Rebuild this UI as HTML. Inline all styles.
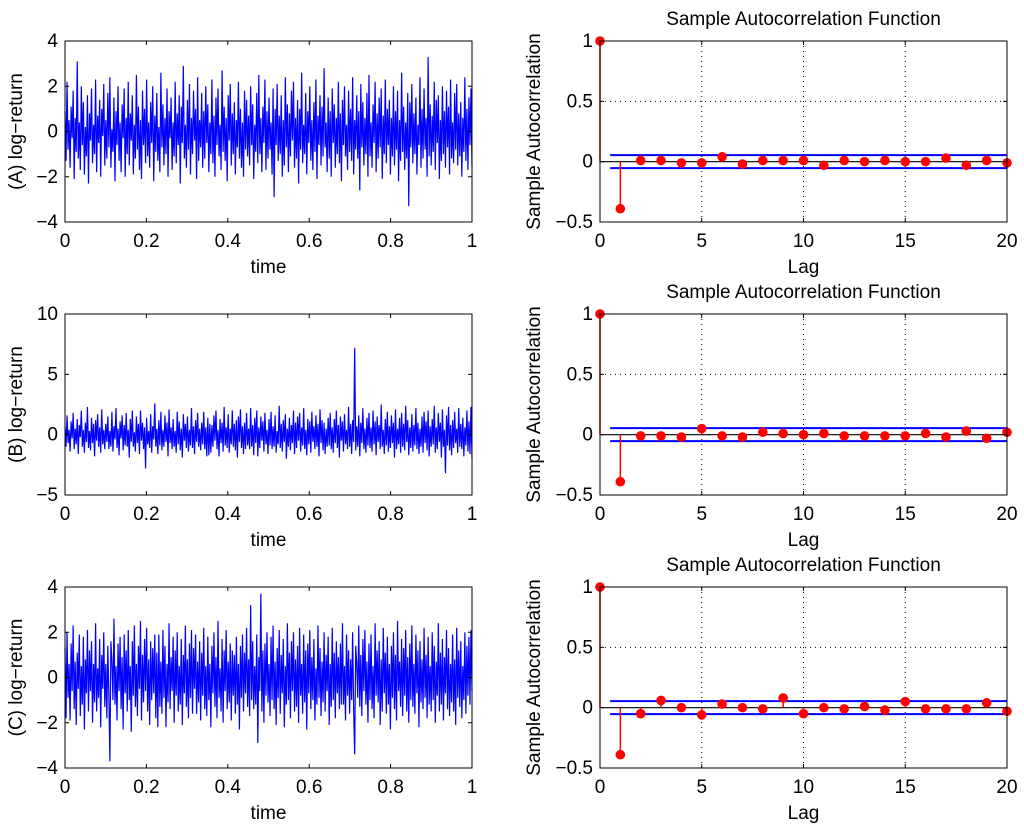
<!DOCTYPE html>
<html><head><meta charset="utf-8"><style>
html,body{margin:0;padding:0;background:#fff;}
svg text{font-family:"Liberation Sans",Arial,sans-serif;fill:#000;}
</style></head><body>
<svg id="fig" width="1024" height="831" viewBox="0 0 1024 831" xmlns="http://www.w3.org/2000/svg"></svg>
<script>
const seriesA=[
0.9,-1.3,2.2,-0.8,0.5,-1.6,1.1,-0.3,1.8,-2.1,0.6,-0.9,3.1,-1.2,0.4,-1.7,2.0,-0.6,1.3,-1.9,
0.2,-1.1,1.6,-2.3,0.8,-0.4,1.9,-1.4,0.3,-1.0,2.3,-1.8,0.7,-0.5,1.4,-2.0,1.0,-0.2,2.1,-1.5,
0.5,-1.2,1.7,-0.7,2.4,-1.6,0.1,-0.9,1.5,-2.2,0.9,-0.6,2.0,-1.3,0.4,-1.8,1.2,-0.3,1.9,-2.0,
0.6,-1.0,2.2,-1.5,0.8,-0.4,1.6,-1.9,0.3,-1.2,2.5,-0.8,1.1,-1.7,0.5,-2.1,1.8,-0.6,1.0,-1.4,
2.3,-1.1,0.4,-1.6,1.3,-0.5,2.0,-2.2,0.7,-0.9,1.7,-1.3,0.2,-1.8,2.6,-0.7,1.2,-1.5,0.6,-1.0,
1.9,-2.0,0.9,-0.3,1.5,-1.7,0.4,-1.1,2.2,-1.4,0.8,-0.6,1.6,-2.3,1.1,-0.5,2.9,-1.2,0.3,-1.6,
1.4,-0.8,2.1,-1.9,0.6,-1.0,1.8,-0.4,1.0,-2.1,2.4,-1.3,0.5,-0.7,1.7,-1.6,0.9,-1.2,2.0,-0.5,
1.2,-1.8,0.4,-1.0,2.3,-1.4,0.7,-2.0,1.5,-0.6,1.9,-1.1,0.3,-1.7,2.7,-0.9,1.1,-1.3,0.6,-2.2,
1.6,-0.4,2.1,-1.5,0.8,-1.0,1.3,-1.9,0.5,-0.7,2.2,-1.2,1.0,-1.6,0.4,-2.0,1.8,-0.8,1.4,-1.1,
0.7,-1.5,2.0,-0.6,1.2,-2.1,0.3,-0.9,1.7,-1.4,2.5,-1.0,0.6,-1.8,1.1,-0.5,2.3,-1.7,0.9,-1.2,
1.5,-0.8,0.4,-1.9,1.9,-2.9,1.0,-0.6,2.1,-1.3,0.7,-1.0,1.6,-2.0,0.5,-1.5,2.4,-0.7,1.2,-1.8,
0.8,-1.1,1.8,-0.4,2.2,-1.6,0.6,-1.2,1.4,-2.3,1.0,-0.8,2.6,-1.4,0.3,-1.0,1.7,-1.9,0.9,-0.5,
2.0,-1.3,0.5,-1.7,1.3,-0.9,2.3,-2.1,0.7,-0.6,1.6,-1.5,1.1,-1.1,2.8,-0.7,0.4,-1.8,1.5,-1.2,
0.9,-2.0,1.9,-0.5,1.2,-1.6,0.6,-1.0,2.2,-1.4,0.8,-2.2,1.4,-0.6,2.0,-1.1,0.3,-1.7,1.8,-0.9,
1.0,-1.3,2.4,-1.9,0.5,-0.8,1.6,-1.2,0.9,-2.6,2.1,-0.7,1.3,-1.5,0.6,-1.0,1.7,-2.0,2.5,-1.1,
0.4,-1.6,1.2,-0.5,2.2,-1.8,0.8,-1.2,1.5,-0.7,1.9,-2.1,0.7,-1.0,2.3,-1.4,1.0,-0.6,1.4,-1.9,
0.6,-1.1,2.0,-1.5,0.9,-0.8,1.8,-2.2,0.5,-1.3,2.6,-0.9,1.1,-1.7,0.4,-1.2,1.7,-3.3,1.3,-0.7,
2.1,-1.4,0.8,-1.0,1.5,-1.9,0.3,-0.6,2.4,-1.6,1.0,-1.2,1.9,-0.8,0.6,-2.0,3.3,-1.1,1.2,-1.5,
0.7,-0.9,2.2,-1.7,1.4,-0.5,1.6,-2.1,0.5,-1.3,2.0,-1.0,0.9,-1.6,1.8,-0.7,1.1,-1.9,2.3,-1.2,
0.4,-1.4,1.7,-0.8,2.1,-1.5,0.8,-1.1,1.3,-2.0,0.6,-0.9,2.4,-1.3,1.0,-1.7,1.5,-0.6,1.9,-1.6];
const seriesB=[
0.7,-1.0,1.6,-0.7,0.4,-1.4,1.1,-0.3,1.8,-1.2,0.5,-0.8,1.3,-1.6,0.8,-0.2,2.0,-1.0,0.4,-1.5,
1.0,-0.6,2.3,-1.1,0.3,-1.3,1.4,-0.7,0.9,-1.8,1.2,-0.5,1.7,-1.0,0.6,-1.5,2.1,-0.8,0.4,-1.2,
0.9,-0.6,1.5,-1.2,0.3,-1.0,1.9,-1.4,0.7,-0.4,2.2,-1.1,0.5,-1.7,1.1,-0.3,1.6,-1.3,0.8,-0.9,
1.8,-1.0,0.4,-1.9,1.3,-0.6,2.0,-1.0,0.2,-1.4,1.5,-0.7,0.9,-1.6,2.0,-0.5,1.0,-1.2,0.6,-2.8,
1.4,-0.8,0.3,-1.1,1.7,-1.5,0.7,-0.4,2.6,-1.0,0.5,-1.6,1.2,-0.9,1.9,-1.3,0.4,-1.0,1.6,-0.6,
1.0,-1.8,2.1,-0.7,0.6,-1.2,1.3,-1.0,0.3,-1.5,1.9,-0.8,1.1,-1.3,0.5,-1.9,1.7,-0.5,0.9,-1.1,
1.5,-1.4,0.4,-0.9,2.2,-1.1,0.7,-1.6,1.2,-0.6,1.8,-1.0,0.5,-1.3,1.0,-0.8,1.9,-1.2,0.6,-1.8,
1.4,-1.7,0.9,-1.5,0.8,-1.0,1.6,-0.5,2.0,-1.2,0.4,-1.8,1.3,-0.7,1.0,-1.4,2.3,-0.9,0.6,-1.1,
1.7,-1.5,0.5,-0.8,2.0,-1.0,0.9,-1.3,1.2,-1.9,1.5,-0.6,2.1,-1.1,0.7,-1.6,1.0,-1.2,1.8,-0.9,
0.5,-1.2,2.2,-1.0,0.8,-1.7,1.4,-0.7,2.0,-1.8,0.6,-1.1,1.5,-0.5,1.1,-1.4,1.8,-0.8,0.4,-1.6,
1.3,-0.9,1.9,-1.2,0.7,-1.0,1.6,-1.5,0.3,-0.8,2.4,-1.1,0.9,-1.4,1.2,-0.6,1.7,-2.0,0.5,-1.0,
1.4,-1.3,0.8,-0.7,2.0,-1.6,1.0,-1.1,1.5,-0.5,1.8,-1.4,0.6,-0.9,2.2,-1.2,0.4,-1.7,1.3,-0.8,
1.1,-1.5,1.9,-0.6,0.7,-1.2,1.6,-1.0,0.9,-1.8,2.1,-0.7,1.2,-1.3,1.0,-1.6,0.5,-1.0,1.4,-0.9,
1.8,-1.2,0.6,-1.5,1.3,-0.7,2.0,-1.1,0.8,-1.9,1.5,-0.5,1.1,-1.4,1.7,-0.8,0.4,-1.2,2.3,-1.0,
0.9,-1.6,1.2,-0.6,7.2,-1.3,0.7,-1.0,1.6,-1.8,1.0,-0.7,2.2,-1.2,0.5,-1.5,1.4,-0.9,1.8,-1.1,
0.6,-1.4,2.0,-0.8,1.1,-1.7,1.5,-0.6,0.8,-1.2,2.5,-1.0,0.4,-1.6,1.3,-0.9,1.9,-1.4,0.7,-1.1,
1.6,-0.7,1.0,-1.9,2.1,-1.2,0.5,-0.8,1.4,-1.5,1.8,-1.0,0.9,-1.3,2.4,-0.6,1.2,-1.7,0.6,-1.1,
1.7,-1.4,0.8,-0.9,2.2,-1.2,1.0,-1.6,0.5,-1.0,1.5,-1.5,1.9,-0.7,1.1,-1.3,2.0,-1.8,0.7,-1.0,
1.3,-0.8,2.4,-1.5,0.6,-1.2,1.8,-0.6,1.0,-1.9,2.1,-1.0,0.4,-3.2,1.6,-0.9,2.3,-1.3,0.8,-1.7,
1.2,-1.1,1.9,-0.7,0.5,-1.5,2.2,-1.0,0.9,-1.2,1.4,-1.8,0.6,-0.9,2.0,-1.4,1.1,-1.6,2.3,-2.0];
const seriesC=[
1.3,-1.8,2.0,-0.9,0.6,-1.9,1.5,-0.6,2.3,-1.4,0.7,-2.1,1.1,-0.5,1.9,-1.7,0.5,-1.2,1.8,-2.3,
0.8,-0.7,2.1,-1.5,1.2,-0.6,1.6,-2.0,0.6,-1.1,2.4,-1.5,0.4,-0.9,1.7,-2.2,1.0,-0.5,2.0,-1.3,
0.6,-1.8,1.4,-0.8,-3.7,1.6,0.7,-1.0,2.6,-1.2,0.5,-1.9,1.5,-0.6,1.8,-1.4,0.9,-2.3,1.9,-0.7,
1.2,-1.5,2.1,-1.0,0.5,-2.4,1.6,-0.8,2.3,-1.3,0.6,-1.7,1.4,-0.5,2.5,-1.9,1.0,-1.1,1.7,-0.6,
2.2,-1.5,0.8,-2.1,1.6,-1.0,1.3,-0.7,1.9,-1.8,1.1,-2.2,1.9,-1.3,0.7,-1.6,2.1,-0.9,1.4,-2.2,
0.6,-1.1,2.4,-1.4,0.9,-0.6,1.8,-2.0,1.2,-0.8,2.0,-1.5,0.5,-1.2,1.7,-2.1,1.0,-0.7,2.3,-1.3,
0.8,-1.8,1.5,-0.9,2.1,-1.6,1.3,-0.5,1.9,-1.6,0.7,-1.1,1.6,-1.9,1.1,-0.8,2.2,-1.4,0.5,-1.7,
1.8,-1.0,0.6,-2.2,1.4,-0.7,2.0,-1.3,0.9,-1.8,2.5,-0.9,0.4,-1.5,1.7,-2.0,1.2,-0.6,2.1,-1.4,
0.7,-1.1,1.5,-1.9,1.2,-0.8,1.0,-1.6,1.8,-1.2,0.6,-2.3,1.4,-0.9,1.9,-1.5,1.1,-0.7,2.2,-1.3,
0.8,-1.7,3.2,-1.0,1.6,-1.4,0.5,-1.2,1.9,-2.9,0.9,-0.6,3.7,-1.5,1.2,-2.0,1.5,-0.8,2.0,-1.1,
0.6,-1.7,1.8,-1.0,2.3,-1.4,0.7,-2.1,1.3,-0.9,2.1,-1.6,1.0,-0.7,1.7,-2.2,0.5,-1.2,2.4,-1.0,
1.1,-1.8,1.6,-0.6,2.0,-1.5,0.8,-1.3,1.4,-2.0,2.2,-0.8,0.6,-1.6,1.9,-1.1,1.2,-2.3,1.5,-0.7,
2.1,-1.4,0.9,-1.0,1.7,-1.9,0.4,-1.2,2.3,-0.9,1.3,-1.7,0.7,-1.1,2.0,-1.5,1.0,-0.6,1.8,-2.1,
0.6,-1.3,2.2,-1.0,1.1,-1.8,1.6,-0.7,0.9,-1.4,1.5,-1.2,2.4,-1.2,0.5,-1.9,1.9,-0.8,1.2,-1.6,
0.8,-1.0,2.0,-1.5,-3.4,1.4,0.6,-0.9,2.3,-1.3,1.0,-1.7,1.7,-0.6,2.1,-1.2,0.7,-2.0,1.5,-1.0,
1.9,-1.4,0.5,-1.8,2.4,-0.8,1.2,-1.1,1.6,-2.1,0.8,-1.5,2.2,-0.7,1.1,-1.6,1.8,-1.2,0.6,-2.3,
1.4,-0.9,2.0,-1.4,1.0,-1.9,2.5,-0.6,0.7,-1.3,1.7,-1.7,1.3,-0.8,2.1,-1.5,0.9,-2.0,1.5,-1.0,
2.3,-1.3,0.6,-1.6,1.9,-0.7,1.2,-2.2,1.6,-1.1,0.8,-1.4,2.2,-0.9,1.0,-1.8,1.8,-1.2,0.5,-1.5,
2.0,-1.0,1.4,-2.0,0.7,-0.8,2.4,-1.5,1.1,-1.2,1.7,-1.9,0.9,-0.7,2.1,-1.4,1.3,-1.7,0.6,-1.1,
1.9,-1.5,0.8,-2.1,2.2,-0.9,1.2,-1.3,1.6,-1.8,0.5,-1.0,2.0,-1.6,1.4,-0.8,1.8,-1.2,2.1,-0.6];
const lags=[0,1,2,3,4,5,6,7,8,9,10,11,12,13,14,15,16,17,18,19,20];
const acfA=[1,-0.39,0.01,0.01,-0.01,-0.01,0.04,-0.02,0.01,0.01,0.01,-0.03,0.01,0,0.01,0,0,0.03,-0.03,0.01,-0.01];
const acfB=[1,-0.39,-0.01,-0.01,-0.02,0.05,-0.01,-0.02,0.02,0.01,0,0.01,-0.01,-0.01,-0.01,-0.01,0.01,-0.02,0.03,-0.03,0.02];
const acfC=[1,-0.39,-0.05,0.06,0,-0.06,0.03,0,-0.01,0.08,-0.05,0,-0.01,0.01,-0.02,0.05,-0.01,-0.01,-0.01,0.04,-0.03];
const confBound=0.054;
const timeTicks=[0,0.2,0.4,0.6,0.8,1];
const timeTickLabels=["0","0.2","0.4","0.6","0.8","1"];
const yTicksAC=[-4,-2,0,2,4];
const yTicksB=[-5,0,5,10];
const lagTicks=[0,5,10,15,20];
const acfTicks=[-0.5,0,0.5,1];
const acfTickLabels=["\u22120.5","0","0.5","1"];

const NS="http://www.w3.org/2000/svg";
const svg=document.getElementById('fig');
function mk(tag,attrs,parent,text){const e=document.createElementNS(NS,tag);for(const k in attrs)e.setAttribute(k,attrs[k]);if(text!==undefined)e.textContent=text;(parent||svg).appendChild(e);return e;}
function fmt(v){return v<0?"\u2212"+Math.abs(v):String(v);}

const tops=[41,314,587], H=181;
const LX0=65,LX1=472,RX0=600,RX1=1007;
const FS=19;

function leftPanel(idx,data,yMin,yMax,yTicks,label){
  const top=tops[idx],bot=top+H;
  const g=mk('g',{});
  
  
  const xs=v=>LX0+(v)*(LX1-LX0);
  const ys=v=>bot-(v-yMin)/(yMax-yMin)*H;
  let d='';
  data.forEach((v,i)=>{d+=(i?'L':'M')+xs(i/(data.length-1)).toFixed(2)+' '+ys(v).toFixed(2);});
  const p=mk('path',{d:d,fill:'none',stroke:'#0000ff','stroke-width':1.2},g);
  
  
  const box=mk('rect',{x:LX0,y:top,width:LX1-LX0,height:H,fill:'none',stroke:'#000','stroke-width':1},g);
  
  
  timeTicks.forEach((t,i)=>{const x=xs(t);
    mk('line',{x1:x,x2:x,y1:bot,y2:bot-4,stroke:'#000'},g);mk('line',{x1:x,x2:x,y1:top,y2:top+4,stroke:'#000'},g);
    const tx=mk('text',{x:x,y:bot+25,'font-size':FS,'text-anchor':'middle'},g,timeTickLabels[i]);
    
    });
  yTicks.forEach(t=>{const y=ys(t);
    mk('line',{x1:LX0,x2:LX0+4,y1:y,y2:y,stroke:'#000'},g);mk('line',{x1:LX1,x2:LX1-4,y1:y,y2:y,stroke:'#000'},g);
    const tx=mk('text',{x:LX0-7,y:y+6,'font-size':FS,'text-anchor':'end'},g,fmt(t));
    
    });
  const xl=mk('text',{x:(LX0+LX1)/2,y:bot+51,'font-size':FS,'text-anchor':'middle'},g,'time');
  
  
  const yl=mk('text',{x:0,y:0,'font-size':FS,'text-anchor':'middle',transform:'translate(22,'+(top+H/2)+') rotate(-90)'},g,label);
  
  
}
function acfPanel(idx,acf){
  const top=tops[idx],bot=top+H;
  const g=mk('g',{});
  
  
  const xs=v=>RX0+v/20*(RX1-RX0);
  const ys=v=>bot-(v+0.5)/1.5*H;
  lagTicks.slice(1,4).forEach(t=>mk('line',{x1:xs(t),x2:xs(t),y1:top,y2:bot,stroke:'#000','stroke-dasharray':'1,4'},g));
  mk('line',{x1:RX0,x2:RX1,y1:ys(0.5),y2:ys(0.5),stroke:'#000','stroke-dasharray':'1,4'},g);
  mk('line',{x1:RX0,x2:RX1,y1:ys(0),y2:ys(0),stroke:'#000','stroke-width':1.2},g);
  [confBound,-confBound].forEach(b=>{const l=mk('line',{x1:xs(0.5),x2:RX1,y1:ys(b),y2:ys(b),stroke:'#0000ff','stroke-width':2},g);
    
    });
  lags.forEach((l,i)=>{const x=xs(l),y=ys(acf[i]);
    mk('line',{x1:x,x2:x,y1:ys(0),y2:y,stroke:'#ff0000','stroke-width':1.5},g);
    const c=mk('circle',{cx:x,cy:y,r:4.8,fill:'#ff0000'},g);
    
    });
  const box=mk('rect',{x:RX0,y:top,width:RX1-RX0,height:H,fill:'none',stroke:'#000','stroke-width':1},g);
  
  
  lagTicks.forEach(t=>{const x=xs(t);
    mk('line',{x1:x,x2:x,y1:bot,y2:bot-4,stroke:'#000'},g);mk('line',{x1:x,x2:x,y1:top,y2:top+4,stroke:'#000'},g);
    const tx=mk('text',{x:x,y:bot+25,'font-size':FS,'text-anchor':'middle'},g,String(t));
    
    });
  acfTicks.forEach((t,i)=>{const y=ys(t);
    mk('line',{x1:RX0,x2:RX0+4,y1:y,y2:y,stroke:'#000'},g);mk('line',{x1:RX1,x2:RX1-4,y1:y,y2:y,stroke:'#000'},g);
    const tx=mk('text',{x:RX0-7,y:y+6,'font-size':FS,'text-anchor':'end'},g,acfTickLabels[i]);
    
    });
  const ti=mk('text',{x:(RX0+RX1)/2,y:top-16,'font-size':FS,'text-anchor':'middle'},g,'Sample Autocorrelation Function');
  
  
  const xl=mk('text',{x:(RX0+RX1)/2,y:bot+51,'font-size':FS,'text-anchor':'middle'},g,'Lag');
  
  
  const yl=mk('text',{x:0,y:0,'font-size':FS,'text-anchor':'middle',transform:'translate(540,'+(top+H/2)+') rotate(-90)'},g,'Sample Autocorrelation');
  
  
}
leftPanel(0,seriesA,-4,4,yTicksAC,'(A) log\u2212return');
leftPanel(1,seriesB,-5,10,yTicksB,'(B) log\u2212return');
leftPanel(2,seriesC,-4,4,yTicksAC,'(C) log\u2212return');
acfPanel(0,acfA);acfPanel(1,acfB);acfPanel(2,acfC);
</script>
</body></html>
